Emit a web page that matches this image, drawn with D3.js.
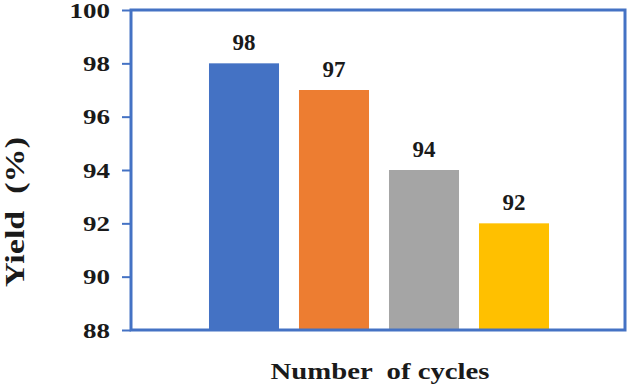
<!DOCTYPE html>
<html>
<head>
<meta charset="utf-8">
<script src="https://cdn.jsdelivr.net/npm/d3@7"></script>
<style>
  body { margin: 0; background: #fff; }
</style>
</head>
<body>
<div id="chart"></div>
<script>
// Data
var cycles = ["1", "2", "3", "4"];
var yields = [98, 97, 94, 92];
var barColors = ["#4472C4", "#ED7D31", "#A5A5A5", "#FFC000"];
var yTicks = [88, 90, 92, 94, 96, 98, 100];

var serif = "'Liberation Serif', 'Times New Roman', serif";
var ink = "#1a1a1a";

// Chart params
var svgWidth = 630;
var svgHeight = 389;
var margin = { top: 10, right: 5, bottom: 59, left: 131 };
var width = svgWidth - margin.left - margin.right;
var height = svgHeight - margin.top - margin.bottom;

var svg = d3.select("#chart")
    .append("svg")
    .attr("width", svgWidth)
    .attr("height", svgHeight);

var chartGroup = svg.append("g")
    .attr("transform", `translate(${margin.left}, ${margin.top})`);

// Scales - bars sit in the middle of the plot area
var xBandScale = d3.scaleBand()
    .domain(cycles)
    .range([68, 428])
    .paddingInner(0.222)
    .paddingOuter(0.111);

var yLinearScale = d3.scaleLinear()
    .domain([88, 100])
    .range([height, 0]);

// Bars
chartGroup.selectAll("rect.bar")
    .data(yields)
    .enter()
    .append("rect")
    .attr("class", "bar")
    .attr("x", (d, i) => xBandScale(cycles[i]))
    .attr("y", d => yLinearScale(d))
    .attr("width", xBandScale.bandwidth())
    .attr("height", d => height - yLinearScale(d))
    .attr("fill", (d, i) => barColors[i]);

// Value labels
chartGroup.selectAll("text.val")
    .data(yields)
    .enter()
    .append("text")
    .attr("class", "val")
    .attr("x", (d, i) => xBandScale(cycles[i]) + xBandScale.bandwidth() / 2)
    .attr("y", d => yLinearScale(d) - 13)
    .attr("text-anchor", "middle")
    .style("font-family", serif)
    .style("font-weight", "bold")
    .style("font-size", "23px")
    .attr("fill", ink)
    .text(d => d);

// Left axis
var leftAxis = d3.axisLeft(yLinearScale)
    .tickValues(yTicks)
    .tickSize(9)
    .tickPadding(12);

var yAxis = chartGroup.append("g").call(leftAxis);
yAxis.select(".domain").remove();
yAxis.selectAll("line").attr("stroke", "#4472C4").attr("stroke-width", 2);
yAxis.selectAll("text")
    .style("font-family", serif)
    .style("font-weight", "bold")
    .style("font-size", "22px")
    .attr("fill", ink)
    .attr("textLength", d => String(d).length * 13.5)
    .attr("lengthAdjust", "spacingAndGlyphs");

// Plot frame
chartGroup.append("rect")
    .attr("x", 0)
    .attr("y", 0)
    .attr("width", width)
    .attr("height", height)
    .attr("fill", "none")
    .attr("stroke", "#4472C4")
    .attr("stroke-width", 3);

// Axis labels
chartGroup.append("text")
    .attr("transform", "rotate(-90)")
    .attr("x", -202)
    .attr("y", -margin.left + 24)
    .attr("text-anchor", "middle")
    .style("font-family", serif)
    .style("font-weight", "bold")
    .style("font-size", "27px")
    .style("white-space", "pre")
    .attr("fill", ink)
    .attr("textLength", 150)
    .attr("lengthAdjust", "spacingAndGlyphs")
    .text("Yield  (%)");

chartGroup.append("text")
    .attr("x", 380 - margin.left)
    .attr("y", height + 49)
    .attr("text-anchor", "middle")
    .style("font-family", serif)
    .style("font-weight", "bold")
    .style("font-size", "23px")
    .style("white-space", "pre")
    .attr("fill", ink)
    .attr("textLength", 219)
    .attr("lengthAdjust", "spacingAndGlyphs")
    .text("Number  of cycles");
</script>
</body>
</html>
